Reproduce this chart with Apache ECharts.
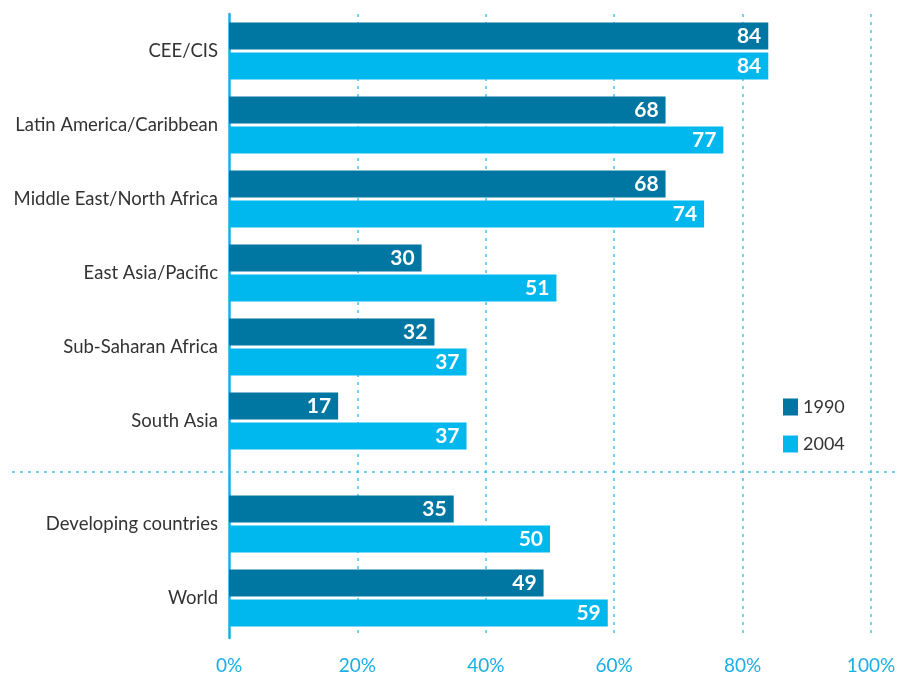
<!doctype html>
<html>
    <head>
        <meta charset="utf-8">
        <style>
            html, body { margin: 0; padding: 0; background: #fff; }
            #main { width: 900px; height: 675px; }
        </style>
    </head>
    <body>
        <div id="main"></div>
        <script src="https://cdn.jsdelivr.net/npm/echarts@6/dist/echarts.min.js"></script>
        <script>
            // regions (top block) and aggregates (bottom block)
            var regions = ['CEE/CIS', 'Latin America/Caribbean', 'Middle East/North Africa',
                'East Asia/Pacific', 'Sub-Saharan Africa', 'South Asia'];
            var regions1990 = [84, 68, 68, 30, 32, 17];
            var regions2004 = [84, 77, 74, 51, 37, 37];

            var totals = ['Developing countries', 'World'];
            var totals1990 = [35, 49];
            var totals2004 = [50, 59];

            var xTicks = ['0%', '20%', '40%', '60%', '80%', '100%'];

            var DARK = '#0077a3';
            var LIGHT = '#00b8ee';
            var AXIS = '#1aaee5';
            var GRID = '#45c3ee';
            var FONT = 'Lato';

            var chart = echarts.init(document.getElementById('main'));

            function dataGridY(idx, cats) {
                return {
                    type: 'category',
                    gridIndex: idx,
                    data: cats,
                    inverse: true,
                    axisLine: { show: false },
                    axisTick: { show: false },
                    axisLabel: {
                        margin: 11,
                        color: '#333',
                        fontFamily: FONT,
                        fontSize: 18.5
                    }
                };
            }

            function hiddenX(idx) {
                return {
                    type: 'value', gridIndex: idx, min: 0, max: 100,
                    show: false, splitLine: { show: false }
                };
            }

            function bar(name, color, grid, data) {
                return {
                    type: 'bar',
                    name: name,
                    xAxisIndex: grid,
                    yAxisIndex: grid,
                    data: data,
                    barWidth: 27,
                    barGap: '11%',
                    itemStyle: { color: color },
                    label: {
                        show: true,
                        position: 'insideRight',
                        distance: 7,
                        color: '#fff',
                        fontFamily: FONT,
                        fontWeight: 'bold',
                        fontSize: 21
                    },
                    z: 3
                };
            }

            chart.setOption({
                animation: false,
                legend: {
                    data: ['1990', '2004'],
                    orient: 'vertical',
                    left: 778,
                    top: 393,
                    itemWidth: 15,
                    itemHeight: 17,
                    itemGap: 19,
                    icon: 'rect',
                    textStyle: { color: '#333', fontFamily: FONT, fontSize: 18 }
                },
                grid: [
                    { left: 229, right: 29, top: 14, height: 626 },  // background: gridlines + x labels
                    { left: 229, right: 29, top: 14, height: 444 },  // regions
                    { left: 229, right: 29, top: 487, height: 148 }  // totals
                ],
                xAxis: [
                    {
                        type: 'value', gridIndex: 0, min: 0, max: 100, interval: 20,
                        axisLine: { show: false },
                        axisTick: { show: false },
                        axisLabel: {
                            margin: 18,
                            color: AXIS,
                            fontFamily: FONT,
                            fontSize: 19,
                            formatter: function (v) { return xTicks[v / 20]; }
                        },
                        splitLine: {
                            show: true,
                            showMinLine: false,
                            lineStyle: { color: GRID, width: 1.5, type: [3, 5] }
                        }
                    },
                    hiddenX(1),
                    hiddenX(2)
                ],
                yAxis: [
                    {
                        type: 'value', gridIndex: 0, min: 0, max: 1,
                        axisLine: { show: true, lineStyle: { color: AXIS, width: 2.5 } },
                        axisTick: { show: false },
                        axisLabel: { show: false },
                        splitLine: { show: false }
                    },
                    dataGridY(1, regions),
                    dataGridY(2, totals)
                ],
                graphic: [{
                    type: 'line',
                    shape: { x1: 12, y1: 472, x2: 895, y2: 472 },
                    style: { stroke: GRID, lineWidth: 1.5, lineDash: [3, 5] },
                    z: 1
                }],
                series: [
                    bar('1990', DARK, 1, regions1990),
                    bar('2004', LIGHT, 1, regions2004),
                    bar('1990', DARK, 2, totals1990),
                    bar('2004', LIGHT, 2, totals2004)
                ]
            });

            window.addEventListener('resize', function () {
                chart.resize();
            });
        </script>
    </body>
</html>
